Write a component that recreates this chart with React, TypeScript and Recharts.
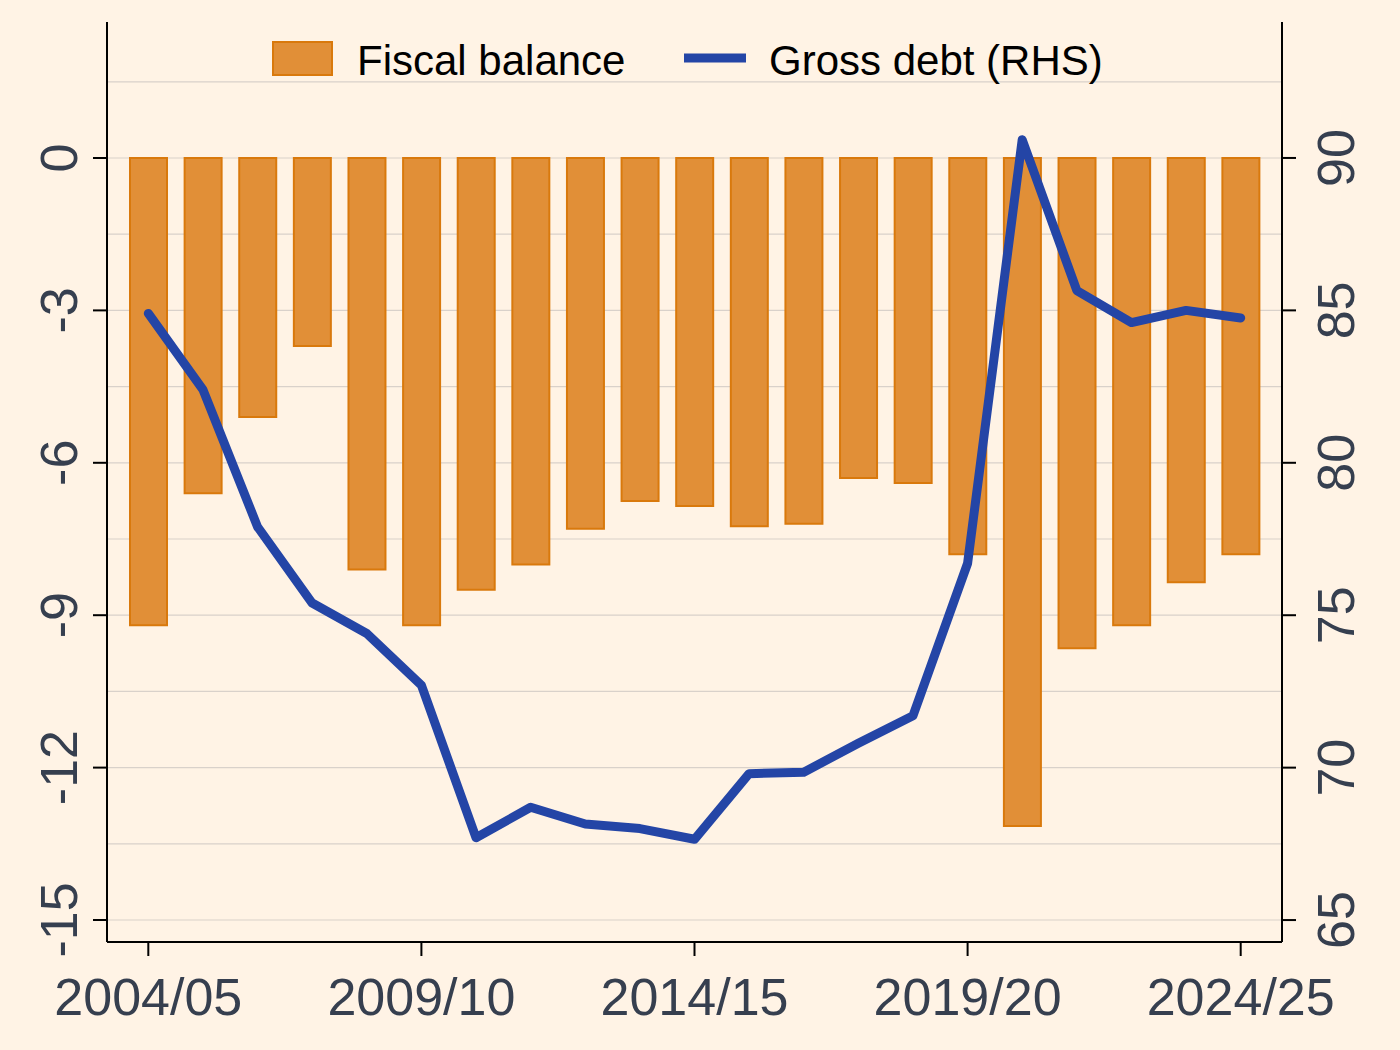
import React from "react";
import {
  ComposedChart,
  Bar,
  Line,
  XAxis,
  YAxis,
  CartesianGrid,
  Legend,
} from "recharts";

const years = [
  "2004/05", "2005/06", "2006/07", "2007/08", "2008/09", "2009/10", "2010/11",
  "2011/12", "2012/13", "2013/14", "2014/15", "2015/16", "2016/17", "2017/18",
  "2018/19", "2019/20", "2020/21", "2021/22", "2022/23", "2023/24", "2024/25",
];

// Fiscal balance, % of GDP (left axis)
const fiscalBalance = [
  -9.2, -6.6, -5.1, -3.7, -8.1, -9.2, -8.5, -8.0, -7.3, -6.75, -6.85,
  -7.25, -7.2, -6.3, -6.4, -7.8, -13.15, -9.65, -9.2, -8.35, -7.8,
];

// Gross debt, % of GDP (right axis)
const grossDebt = [
  84.9, 82.4, 77.9, 75.4, 74.4, 72.7, 67.7, 68.7, 68.15, 68.0, 67.65,
  69.8, 69.85, 70.8, 71.7, 76.7, 90.6, 85.65, 84.6, 85.0, 84.75,
];

const leftTicks = [-15, -12, -9, -6, -3, 0];
const rightTicks = [65, 70, 75, 80, 85, 90];
const gridValues = [-15, -13.5, -12, -10.5, -9, -7.5, -6, -4.5, -3, -1.5, 0, 1.5];

const data = years.map((year, i) => ({
  year,
  balance: fiscalBalance[i],
  debt: grossDebt[i],
}));

const FONT = "'Liberation Sans', Arial, sans-serif";
const TICK_COLOR = "#363f4f";
const BAR_FILL = "#e18f37";
const BAR_STROKE = "#d9790c";
const LINE_COLOR = "#2445a6";
const BG = "#fff3e5";
const TICK_FONT = 52;

// both vertical axes read bottom-to-top
const VerticalTick = ({ x, y, payload, shift }: any) => {
  const tx = x + shift;
  return (
    <text
      x={tx}
      y={y}
      transform={`rotate(-90 ${tx} ${y})`}
      textAnchor="middle"
      fontSize={TICK_FONT}
      fontFamily={FONT}
      fill={TICK_COLOR}
    >
      {payload.value}
    </text>
  );
};

const BottomTick = (props: any) => {
  const { x, y, payload } = props;
  return (
    <text
      x={x}
      y={y + 57}
      textAnchor="middle"
      fontSize={TICK_FONT}
      fontFamily={FONT}
      fill={TICK_COLOR}
    >
      {payload.value}
    </text>
  );
};

const renderLegend = () => (
  <svg width={1400} height={100} style={{ display: "block" }}>
    <rect x={273} y={42} width={59} height={33} fill={BAR_FILL} stroke={BAR_STROKE} strokeWidth={2} />
    <text x={357} y={75} fontSize={42} fontFamily={FONT} fill="#000">
      Fiscal balance
    </text>
    <line x1={684} y1={58} x2={746} y2={58} stroke={LINE_COLOR} strokeWidth={9} />
    <text x={769} y={75} fontSize={42} fontFamily={FONT} fill="#000">
      Gross debt (RHS)
    </text>
  </svg>
);

export default function App() {
  return (
    <div
      style={{
        position: "absolute",
        left: 0,
        top: 0,
        width: 1400,
        height: 1050,
        background: BG,
      }}
    >
      <ComposedChart
        width={1400}
        height={1050}
        data={data}
        margin={{ top: 22, right: 0, bottom: 0, left: 0 }}
      >
        <CartesianGrid
          yAxisId="left"
          vertical={false}
          horizontalValues={gridValues}
          stroke="#d9d1ca"
          strokeWidth={1.2}
        />
        <XAxis
          dataKey="year"
          height={108}
          interval={4}
          padding={{ left: 14, right: 14 }}
          tickSize={14}
          axisLine={{ stroke: "#000", strokeWidth: 2 }}
          tickLine={{ stroke: "#000", strokeWidth: 2 }}
          tick={<BottomTick />}
        />
        <YAxis
          yAxisId="left"
          orientation="left"
          width={107}
          type="number"
          domain={[-15.433, 2.677]}
          ticks={leftTicks}
          allowDataOverflow
          tickSize={14}
          axisLine={{ stroke: "#000", strokeWidth: 2 }}
          tickLine={{ stroke: "#000", strokeWidth: 2 }}
          tick={<VerticalTick shift={-14} />}
        />
        <YAxis
          yAxisId="right"
          orientation="right"
          width={118}
          type="number"
          domain={[64.28, 94.46]}
          ticks={rightTicks}
          allowDataOverflow
          tickSize={14}
          axisLine={{ stroke: "#000", strokeWidth: 2 }}
          tickLine={{ stroke: "#000", strokeWidth: 2 }}
          tick={<VerticalTick shift={56} />}
        />
        <Legend
          layout="vertical"
          align="center"
          verticalAlign="middle"
          content={renderLegend}
          wrapperStyle={{ top: 0, left: 0, width: 1400, height: 100 }}
        />
        <Bar
          yAxisId="left"
          dataKey="balance"
          name="Fiscal balance"
          barSize={37}
          fill={BAR_FILL}
          stroke={BAR_STROKE}
          strokeWidth={2}
          isAnimationActive={false}
        />
        <Line
          yAxisId="right"
          dataKey="debt"
          name="Gross debt (RHS)"
          type="linear"
          stroke={LINE_COLOR}
          strokeWidth={9}
          strokeLinecap="round"
          strokeLinejoin="round"
          dot={false}
          activeDot={false}
          isAnimationActive={false}
        />
      </ComposedChart>
    </div>
  );
}
